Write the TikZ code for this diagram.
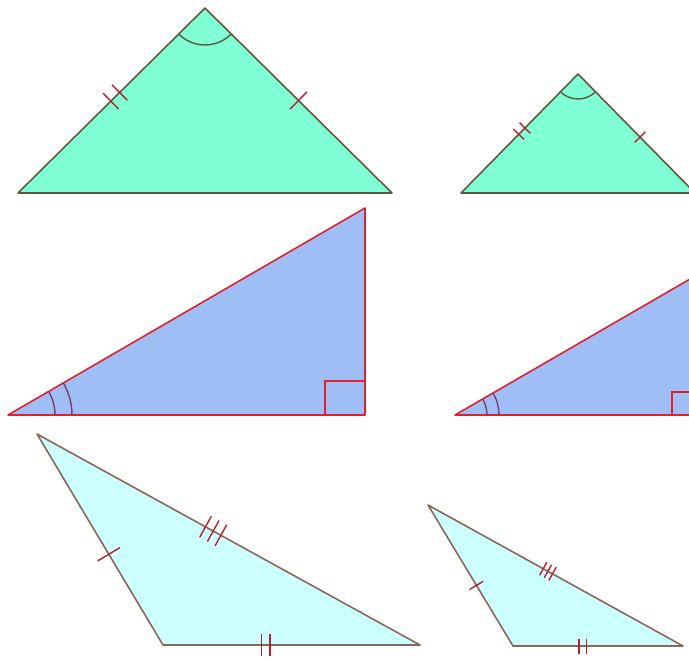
\documentclass[tikz,border=0pt]{standalone}
\usetikzlibrary{calc,angles}
\definecolor{mint}{HTML}{80FFD4}
\definecolor{olive}{HTML}{5E5842}
\definecolor{sky}{HTML}{9FBEF5}
\definecolor{redline}{HTML}{E0202C}
\definecolor{plum}{HTML}{7A3E6E}
\definecolor{ice}{HTML}{CCFFFF}
\definecolor{brownline}{HTML}{8A6656}
\definecolor{tickred}{HTML}{B8202E}
\tikzset{isos/.style={fill=mint,draw=olive,line width=.9pt,line join=round},right/.style={fill=sky,draw=redline,line width=.9pt,line join=round},scal/.style={fill=ice,draw=brownline,line width=.9pt,line join=round},tick/.style={tickred,line width=.8pt},arcmark/.style={draw=#1,line width=.8pt}}
\begin{document}
\begin{tikzpicture}[x=.02cm,y=.02cm]
\useasboundingbox (0,0) rectangle (689,-660);
\clip (0,0) rectangle (689,-660);
% vertices, in pixels from the top left corner
\foreach \n/\x/\y in {L1/18/193,T1/205/8,R1/392/193,L4/461/193,T4/578/74,R4/695/193,L2/8/415,T2/365/208,R2/365/415,L5/455/415,T5/697/275,R5/697/415,A3/37/434,B3/163/645,C3/420/645,A6/428/505,B6/513/646,C6/683/646}{\coordinate(\n)at(\x,-\y);}
\draw[isos](L1)--(T1)--(R1)--cycle;
\draw[isos](L4)--(T4)--(R4)--cycle;
\draw[right](L2)--(T2)--(R2)--cycle;
\draw[right](L5)--(T5)--(R5)--cycle;
\draw[scal](A3)--(B3)--(C3)--cycle;
\draw[scal](A6)--(B6)--(C6)--cycle;
% angle marks
\pic[arcmark=olive,angle radius=.74cm]{angle=L1--T1--R1};
\pic[arcmark=olive,angle radius=.5cm]{angle=L4--T4--R4};
\foreach \r in {.94cm,1.28cm}{\pic[arcmark=plum,angle radius=\r]{angle=R2--L2--T2};}
\foreach \r in {.64cm,.88cm}{\pic[arcmark=plum,angle radius=\r]{angle=R5--L5--T5};}
\draw[redline,line width=.9pt]($(R2)+(-40,0)$)|-($(R2)+(0,34)$);
\draw[redline,line width=.9pt]($(R5)+(-25,0)$)|-($(R5)+(0,23)$);
% equal side ticks
\foreach \a/\b/\t/\h/\s in {L1/T1/.52/.22cm/{-3.5pt,3.5pt},T1/R1/.5/.24cm/{0pt},L4/T4/.52/.15cm/{-2.5pt,2.5pt},T4/R4/.53/.15cm/{0pt},B3/A3/.43/.26cm/{0pt},A3/C3/.46/.24cm/{-5pt,0pt,5pt},B3/C3/.40/.22cm/{-2.5pt,2.5pt},B6/A6/.43/.16cm/{0pt},A6/C6/.47/.15cm/{-3pt,0pt,3pt},B6/C6/.41/.15cm/{-2pt,2pt}}{
\foreach \d in \s{
\coordinate(m)at($(\a)!\t!(\b)!\d!(\b)$);
\draw[tick]($(m)!\h!90:(\b)$)--($(m)!\h!-90:(\b)$);}}
\end{tikzpicture}
\end{document}
